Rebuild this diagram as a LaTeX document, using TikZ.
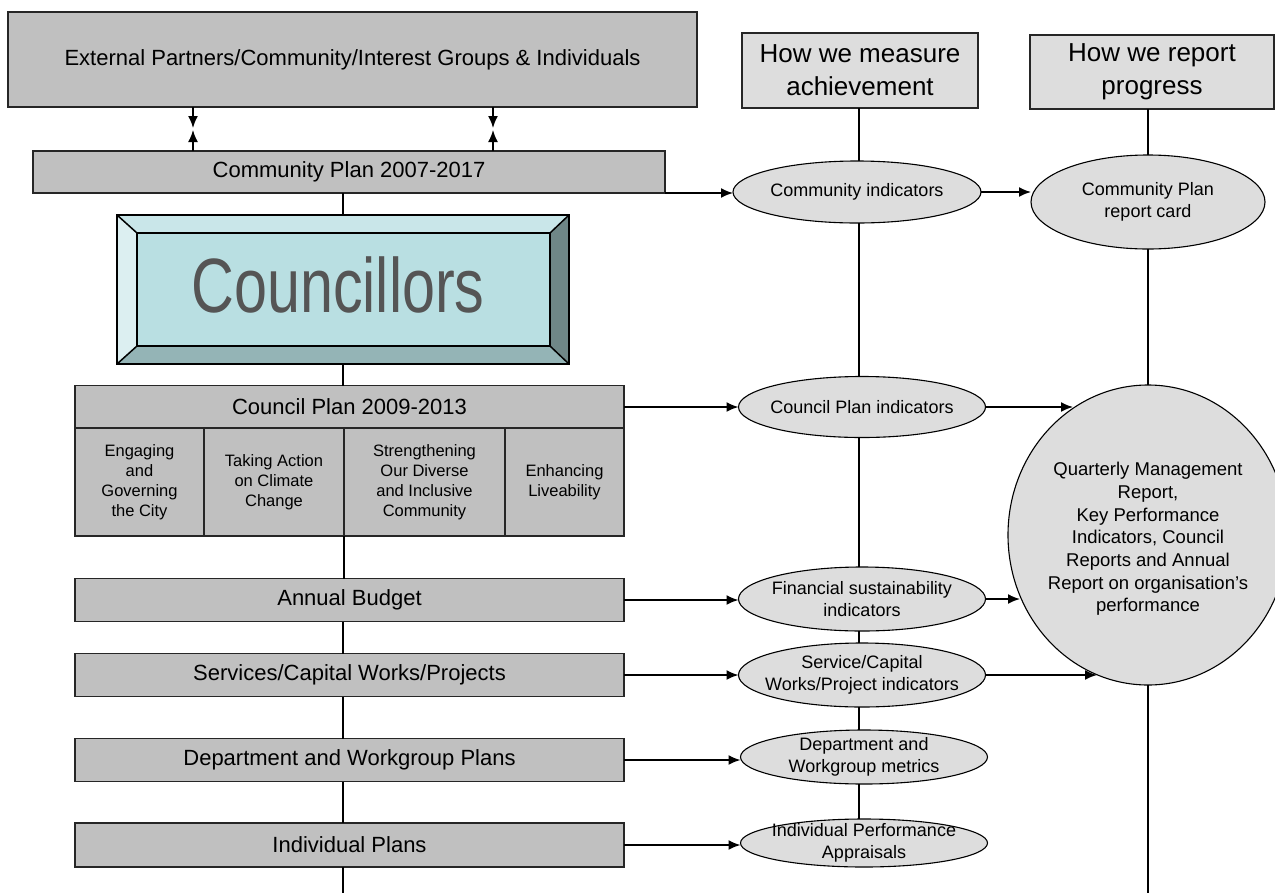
\documentclass[tikz,border=0pt]{standalone}
\usepackage{fontspec}
\setmainfont{Liberation Sans}
\usepackage{graphicx}
\usetikzlibrary{arrows.meta,shapes.geometric}
\definecolor{boxgray}{HTML}{C0C0C0}
\definecolor{ellgray}{HTML}{DDDDDD}
\definecolor{bvtop}{HTML}{C9E6E9}
\definecolor{bvleft}{HTML}{DCEFF1}
\definecolor{bvright}{HTML}{6F8787}
\definecolor{bvbottom}{HTML}{94B4B6}
\definecolor{bvface}{HTML}{B9DFE2}
\definecolor{councgray}{HTML}{555555}
\begin{document}
\begin{tikzpicture}[x=1pt,y=-1pt,
  box/.style={draw=black!85, line width=1.3pt, fill=boxgray, inner sep=0pt, outer sep=0pt,
    font=\fontsize{22}{26}\selectfont, align=center},
  cell/.style={draw=black!85, line width=1.3pt, fill=boxgray, inner sep=0pt, outer sep=0pt,
    font=\fontsize{16.5}{20}\selectfont, align=center},
  ell/.style={ellipse, draw, line width=1.1pt, fill=ellgray, inner sep=0pt, outer sep=0pt},
  etext/.style={inner sep=0pt, font=\fontsize{18}{22}\selectfont, align=center},
  hdr/.style={draw=black!85, line width=1.2pt, fill=ellgray, inner sep=0pt, outer sep=0pt,
    font=\fontsize{26}{33}\selectfont, align=center},
  conn/.style={line width=1.5pt},
  arr/.style={line width=1.7pt, -{Latex[length=12pt,width=10pt]}},
  bevelline/.style={line width=1.8pt, line join=miter}
]
\useasboundingbox (0,0) rectangle (1275,895);

% left column boxes
\node[box, minimum width=689pt, minimum height=95pt] (ext) at (352.5,59.5)
  {External Partners/Community/Interest Groups \& Individuals};
\node[box, minimum width=632pt, minimum height=42pt] (cp) at (349,172) {Community Plan 2007-2017};

% Councillors bevel box
\fill[bvtop] (117,215) -- (569,215) -- (550,233) -- (137,233) -- cycle;
\fill[bvleft] (117,215) -- (137,233) -- (137,346) -- (117,364) -- cycle;
\fill[bvright] (569,215) -- (569,364) -- (550,346) -- (550,233) -- cycle;
\fill[bvbottom] (117,364) -- (137,346) -- (550,346) -- (569,364) -- cycle;
\fill[bvface] (137,233) rectangle (550,346);
\draw[bevelline] (137,233) rectangle (550,346);
\draw[line width=1.5pt] (117,215) -- (137,233) (569,215) -- (550,233)
  (117,364) -- (137,346) (569,364) -- (550,346);
\node[draw, line width=2.2pt, minimum width=452pt, minimum height=149pt, inner sep=0pt, outer sep=0pt]
  (coun) at (343,289.5) {};
\node[inner sep=0pt, text=councgray, font=\fontsize{77}{80}\selectfont] (ctext) at (338,285)
  {\scalebox{0.77}[1]{Councillors}};

% Council plan
\node[box, minimum width=549pt, minimum height=43pt] (cplh) at (349.5,407) {Council Plan 2009-2013};
\node[cell, minimum width=129pt, minimum height=108pt] (c1) at (139.5,482) {Engaging\\and\\Governing\\the City};
\node[cell, minimum width=140pt, minimum height=108pt] (c2) at (274,482) {Taking Action\\on Climate\\Change};
\node[cell, minimum width=161pt, minimum height=108pt] (c3) at (424.5,482) {Strengthening\\Our Diverse\\and Inclusive\\Community};
\node[cell, minimum width=119pt, minimum height=108pt] (c4) at (564.5,482) {Enhancing\\Liveability};

\node[box, minimum width=549pt, minimum height=43pt] (ab) at (349.5,600) {Annual Budget};
\node[box, minimum width=549pt, minimum height=43pt] (svc) at (349.5,675) {Services/Capital Works/Projects};
\node[box, minimum width=549pt, minimum height=43pt] (dept) at (349.5,760) {Department and Workgroup Plans};
\node[box, minimum width=549pt, minimum height=44pt] (ind) at (349.5,845) {Individual Plans};

% measure column
\node[hdr, minimum width=236pt, minimum height=75pt] (hwm) at (860,70.5) {How we measure\\achievement};
\node[ell, minimum width=248pt, minimum height=62pt] (ci) at (857,192) {};
\node[etext] at (ci) {Community indicators};
\node[ell, minimum width=247pt, minimum height=61pt] (cpi) at (862,407) {};
\node[etext] at (cpi) {Council Plan indicators};
\node[ell, minimum width=247pt, minimum height=64pt] (fs) at (862,599) {};
\node[etext] at (fs) {Financial sustainability\\indicators};
\node[ell, minimum width=247pt, minimum height=64pt] (sc) at (862,675) {};
\node[etext] at (sc) {Service/Capital\\Works/Project indicators};
\node[ell, minimum width=247pt, minimum height=54pt] (dpe) at (864,757) {};
\node[etext] at (dpe) {Department and\\Workgroup metrics};
\node[ell, minimum width=247pt, minimum height=48pt] (ine) at (864,843) {};
\node[etext] at (ine) {Individual Performance\\Appraisals};

% report column
\node[hdr, minimum width=244pt, minimum height=74pt] (rep) at (1152,72) {How we report\\progress};
\node[ell, minimum width=234pt, minimum height=94pt] (card) at (1148,202) {};
\node[etext] at (card) {Community Plan\\report card};
\node[ell, minimum width=280pt, minimum height=300pt] (big) at (1148,535) {};
\node[etext, font=\fontsize{18.5}{22.7}\selectfont] at ([yshift=-4pt]big.center)
  {Quarterly Management\\Report,\\Key Performance\\Indicators, Council\\Reports and Annual\\Report on organisation's\\performance};

% coordinates
\coordinate (spx) at (343,0);
\coordinate (mx) at (859,0);
\coordinate (m1d) at (193,128);
\coordinate (m1u) at (193,130);
\coordinate (m2d) at (493,128);
\coordinate (m2u) at (493,130);
\coordinate (bl) at (343,893);
\coordinate (br) at (1148,893);
\coordinate (t1) at (1073,0);
\coordinate (t2) at (1020,0);
\coordinate (t3) at (1097,0);

% top double arrows
\draw[arr] (ext.south -| m1d) -- (m1d);
\draw[arr] (cp.north -| m1u) -- (m1u);
\draw[arr] (ext.south -| m2d) -- (m2d);
\draw[arr] (cp.north -| m2u) -- (m2u);

% spine
\draw[conn] (cp.south -| spx) -- (coun.north -| spx);
\draw[conn] (coun.south -| spx) -- (cplh.north -| spx);
\draw[conn] (c3.south west) -- (c3.south west |- ab.north);
\draw[conn] (ab.south -| spx) -- (svc.north -| spx);
\draw[conn] (svc.south -| spx) -- (dept.north -| spx);
\draw[conn] (dept.south -| spx) -- (ind.north -| spx);
\draw[conn] (ind.south -| spx) -- (bl);

% measure column vertical
\draw[conn] (hwm.south -| mx) -- (ci.north -| mx);
\draw[conn] (ci.south -| mx) -- (cpi.north -| mx);
\draw[conn] (cpi.south -| mx) -- (fs.north -| mx);
\draw[conn] (fs.south -| mx) -- (sc.north -| mx);
\draw[conn] (sc.south -| mx) -- (dpe.north -| mx);
\draw[conn] (dpe.south -| mx) -- (ine.north -| mx);

% report column vertical
\draw[conn] (card.north |- rep.south) -- (card.north);
\draw[conn] (card.south) -- (big.north);
\draw[conn] (big.south) -- (br);

% horizontal arrows
\draw[arr] (cp.south east) -- (cp.south east -| ci.west);
\draw[arr] (ci.east) -- (ci.east -| card.west);
\draw[arr] (cplh.east) -- (cplh.east -| cpi.west);
\draw[arr] (cpi.east) -- (cpi.east -| t1);
\draw[arr] (ab.east) -- (ab.east -| fs.west);
\draw[arr] (fs.east) -- (fs.east -| t2);
\draw[arr] (svc.east) -- (svc.east -| sc.west);
\draw[arr] (sc.east) -- (sc.east -| t3);
\draw[arr] (dept.east) -- (dept.east -| dpe.west);
\draw[arr] (ind.east) -- (ind.east -| ine.west);
\end{tikzpicture}
\end{document}
